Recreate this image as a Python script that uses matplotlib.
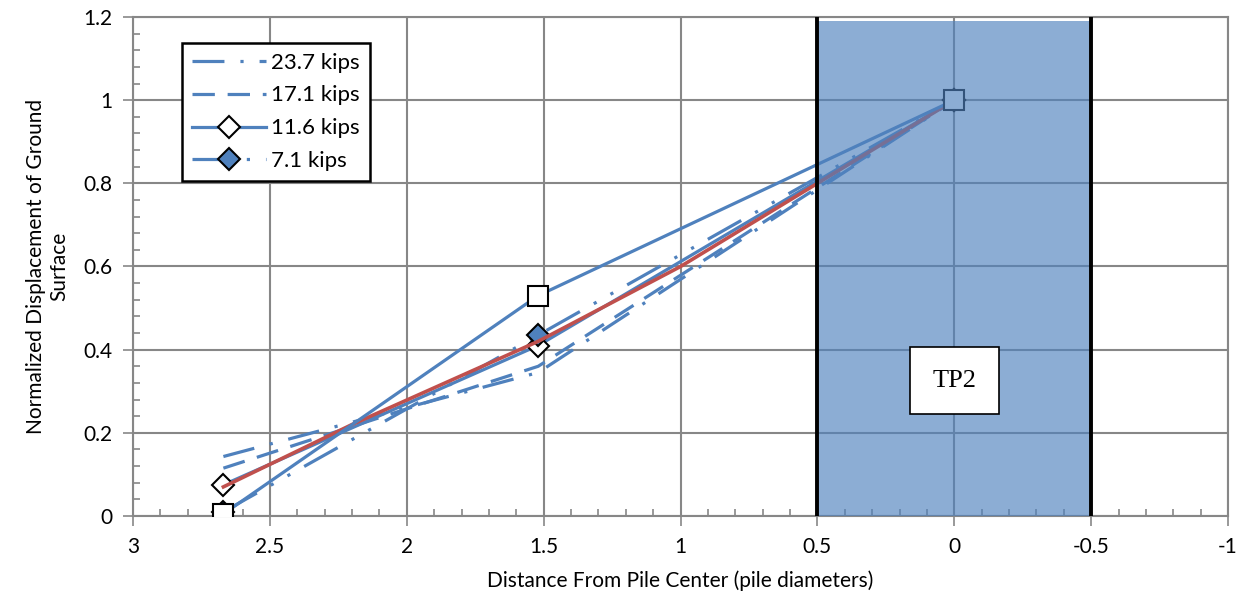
import matplotlib
matplotlib.use('Agg')
import matplotlib.pyplot as plt
from matplotlib.ticker import MultipleLocator, FuncFormatter
from matplotlib.patches import Rectangle

# distance from pile center (pile diameters) for the measured points
dist = [2.67, 1.52, 0.0]

disp_23_7 = [0.143, 0.345, 1.0]
disp_17_1 = [0.115, 0.36, 1.0]
disp_11_6 = [0.075, 0.41, 1.0]
disp_7_1 = [0.01, 0.435, 1.0]
disp_tp2 = [0.005, 0.53, 1.0]

# red reference curve
ref_x = [2.67, 2.2, 1.52, 1.0, 0.5, 0.0]
ref_y = [0.07, 0.22, 0.42, 0.60, 0.80, 1.0]

pile_edges = [0.5, -0.5]
blue = '#4F81BD'
red = '#C0504D'
grid_c = '#878787'

plt.rcParams['font.family'] = ['Lato', 'DejaVu Sans']

fig = plt.figure(figsize=(12.47, 6.03), dpi=100)
ax = fig.add_axes([0.1067, 0.1443, 0.8781, 0.8275])

lw = 2.3
ax.plot(dist, disp_tp2, color=blue, lw=lw, marker='s', ms=15, mfc='white',
        mec='black', mew=1.5, zorder=6)
ax.plot(dist, disp_23_7, color=blue, lw=lw, dashes=(10, 5, 1, 5), label='23.7 kips', zorder=3)
ax.plot(dist, disp_17_1, color=blue, lw=lw, dashes=(7, 4), label='17.1 kips', zorder=3)
ax.plot(dist, disp_11_6, color=blue, lw=lw, marker='D', ms=11, mfc='white',
        mec='black', mew=1.5, label='11.6 kips', zorder=4)
ax.plot(dist, disp_7_1, color=blue, lw=lw, dashes=(12, 5, 1, 5, 1, 5), marker='D', ms=11,
        mfc=blue, mec='black', mew=1.5, label='7.1 kips', zorder=4)
ax.plot(ref_x, ref_y, color=red, lw=2.6, zorder=5)

# pile shading
ax.add_patch(Rectangle((pile_edges[1], -0.01), pile_edges[0] - pile_edges[1], 1.2,
                       facecolor=blue, alpha=0.65, edgecolor='none', zorder=7))
for e in pile_edges:
    ax.axvline(e, color='black', lw=2.8, zorder=8)

ax.text(0, 0.325, 'TP2', family='Liberation Serif', fontsize=19, ha='center', va='center',
        zorder=9, bbox=dict(boxstyle='square,pad=0.85', facecolor='white', edgecolor='black', lw=1.2))

ax.set_xlim(3, -1)
ax.set_ylim(0, 1.2)
ax.xaxis.set_major_locator(MultipleLocator(0.5))
ax.xaxis.set_minor_locator(MultipleLocator(0.1))
ax.yaxis.set_major_locator(MultipleLocator(0.2))
ax.yaxis.set_minor_locator(MultipleLocator(0.04))
fmt = FuncFormatter(lambda v, p: f'{v:g}')
ax.xaxis.set_major_formatter(fmt)
ax.yaxis.set_major_formatter(fmt)
ax.grid(True, which='major', color=grid_c, lw=1.5, zorder=0)
ax.set_axisbelow(True)
ax.tick_params(which='major', direction='out', length=7, width=1.2, color=grid_c,
               labelsize=15, pad=8)
ax.tick_params(which='minor', direction='in', length=5, width=1.2, color=grid_c)
for s in ax.spines.values():
    s.set_color(grid_c)
    s.set_linewidth(1.5)

ax.set_xlabel('Distance From Pile Center (pile diameters)', fontsize=15, labelpad=10)
ax.set_ylabel('Normalized Displacement of Ground\nSurface', fontsize=15, labelpad=10)

leg = ax.legend(loc='upper left', bbox_to_anchor=(0.035, 0.971), fontsize=16,
                fancybox=False, framealpha=1, edgecolor='black', handlelength=3.3,
                borderpad=0.45, labelspacing=0.58, handletextpad=0.25)
leg.get_frame().set_linewidth(1.8)

plt.savefig('out.png', dpi=100)
